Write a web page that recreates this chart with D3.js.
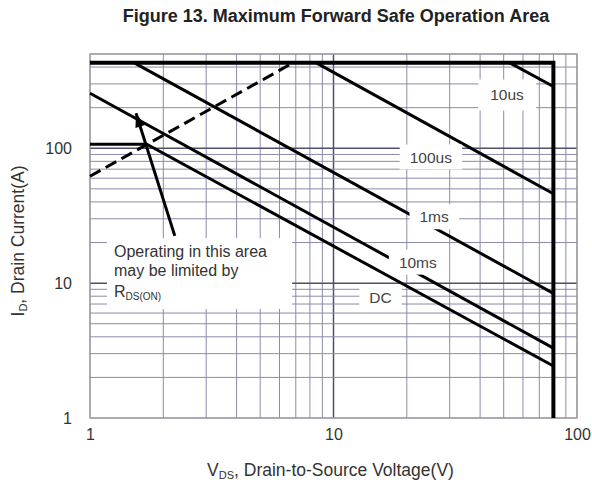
<!DOCTYPE html>
<html>
<head>
<meta charset="utf-8">
<script src="https://cdn.jsdelivr.net/npm/d3@7"></script>
<style>
  body { margin: 0; background: #fff; }
  svg { display: block; font-family: 'Liberation Sans', Arial, sans-serif; }
  .grid line { stroke: #8a8aaa; stroke-width: 1; }
  .grid line.decade { stroke: #50506a; stroke-width: 1.5; }
  .axis text { font-size: 16px; fill: #333; }
  .lbl { font-size: 15.5px; fill: #444; }
</style>
</head>
<body>
<svg id="chart" width="592" height="485"></svg>
<script>
// grid values
const vdsGrid = [1, 2, 3, 4, 5, 6, 7, 8, 9, 10, 20, 30, 40, 50, 60, 70, 80, 90, 100];
const idGrid = [1, 2, 3, 4, 5, 6, 7, 8, 9, 10, 20, 30, 40, 50, 60, 70, 80, 90, 100, 200, 300, 400, 500];
const vdsTicks = [1, 10, 100];
const idTicks = [1, 10, 100];

// outer limits (A, V)
const limitId = 430;
const limitVds = 80;

// SOA curves
const seriesNames = ['10us', '100us', '1ms', '10ms', 'DC'];
const seriesVds = [[53, 80], [8.5, 80], [1.52, 80], [1, 80], [1, 1.71, 80]];
const seriesId = [[430, 287], [430, 46], [430, 8.4], [256, 3.3], [107, 107, 2.43]];
const labelVds = [51.6, 25.1, 25.9, 22.2, 15.6];
const labelId = [248, 86, 31, 14.3, 7.76];

// RDS(on) limit (dashed)
const rdsVds = [1, 6.82];
const rdsId = [62, 430];

// annotation arrow: tail -> tip
const arrowVds = [2.23, 1.545];
const arrowId = [22.4, 182];

const W = 592, H = 485;
const MARGIN = { top: 54, right: 15, bottom: 67, left: 90 };

const svg = d3.select('#chart');
const x = d3.scaleLog().domain([1, 100]).range([MARGIN.left, W - MARGIN.right]);
const y = d3.scaleLog().domain([1, 500]).range([H - MARGIN.bottom, MARGIN.top]);
const isDecade = v => Math.abs(Math.log10(v) - Math.round(Math.log10(v))) < 1e-9;

svg.append('text')
  .attr('x', W / 2 + 40).attr('y', 22)
  .attr('text-anchor', 'middle')
  .style('font-size', '18px').style('font-weight', 'bold').style('fill', '#222')
  .text('Figure 13. Maximum Forward Safe Operation Area');

const grid = svg.append('g').attr('class', 'grid');
grid.selectAll('line.v').data(vdsGrid).join('line')
  .attr('class', d => 'v' + (isDecade(d) && d !== 1 && d !== 100 ? ' decade' : ''))
  .attr('x1', d => x(d)).attr('x2', d => x(d))
  .attr('y1', y(1)).attr('y2', y(500));
grid.selectAll('line.h').data(idGrid).join('line')
  .attr('class', d => 'h' + (isDecade(d) && d !== 1 ? ' decade' : ''))
  .attr('x1', x(1)).attr('x2', x(100))
  .attr('y1', d => y(d)).attr('y2', d => y(d));

svg.append('rect')
  .attr('x', x(1)).attr('y', y(500))
  .attr('width', x(100) - x(1)).attr('height', y(1) - y(500))
  .attr('fill', 'none').attr('stroke', '#999').attr('stroke-width', 1.2);

const line = d3.line().x(d => x(d[0])).y(d => y(d[1]));

// outer limits
svg.append('path')
  .attr('d', line([[1, limitId], [limitVds, limitId], [limitVds, 1]]))
  .attr('fill', 'none').attr('stroke', '#000').attr('stroke-width', 4);

// curves
seriesNames.forEach((name, i) => {
  const pts = seriesVds[i].map((v, j) => [v, seriesId[i][j]]);
  svg.append('path')
    .attr('d', line(pts))
    .attr('fill', 'none').attr('stroke', '#000').attr('stroke-width', 3);
});

// RDS(on) dashed line
svg.append('path')
  .attr('d', line(rdsVds.map((v, j) => [v, rdsId[j]])))
  .attr('fill', 'none').attr('stroke', '#000').attr('stroke-width', 3)
  .attr('stroke-dasharray', '12,6');

// curve labels with white background
seriesNames.forEach((name, i) => {
  const g = svg.append('g');
  const t = g.append('text')
    .attr('class', 'lbl')
    .attr('x', x(labelVds[i])).attr('y', y(labelId[i]))
    .attr('text-anchor', 'middle').attr('dy', '0.35em')
    .text(name);
  const b = t.node().getBBox();
  const px = i === 0 ? 12 : 10, py = i === 0 ? 7 : 4;
  g.insert('rect', 'text')
    .attr('x', b.x - px).attr('y', b.y - py)
    .attr('width', b.width + 2 * px).attr('height', b.height + 2 * py)
    .attr('fill', '#fff');
});

// annotation box
const note = svg.append('g');
const noteText = note.append('text').attr('class', 'lbl').style('font-size', '16px').style('fill', '#333');
noteText.append('tspan').attr('x', 114).attr('y', 257).text('Operating in this area');
noteText.append('tspan').attr('x', 114).attr('y', 276).text('may be limited by');
const r = noteText.append('tspan').attr('x', 114).attr('y', 297);
r.text('R');
noteText.append('tspan').attr('dy', 3).style('font-size', '10px').text('DS(ON)');
const nb = noteText.node().getBBox();
note.insert('rect', 'text')
  .attr('x', nb.x - 7).attr('y', nb.y - 5)
  .attr('width', nb.width + 32).attr('height', nb.height + 12)
  .attr('fill', '#fff');

// arrow
const ax1 = x(arrowVds[0]), ay1 = y(arrowId[0]);
const ax2 = x(arrowVds[1]), ay2 = y(arrowId[1]);
svg.append('line')
  .attr('x1', ax1).attr('y1', ay1).attr('x2', ax2).attr('y2', ay2)
  .attr('stroke', '#000').attr('stroke-width', 3);
const ang = Math.atan2(ay2 - ay1, ax2 - ax1);
const hl = 14, hw = 5;
const bx = ax2 - hl * Math.cos(ang), by = ay2 - hl * Math.sin(ang);
svg.append('path')
  .attr('d', `M${ax2},${ay2}L${bx + hw * Math.sin(ang)},${by - hw * Math.cos(ang)}L${bx - hw * Math.sin(ang)},${by + hw * Math.cos(ang)}Z`)
  .attr('fill', '#000');

// axes
svg.append('g')
  .attr('class', 'axis')
  .attr('transform', `translate(0,${y(1)})`)
  .call(d3.axisBottom(x).tickValues(vdsTicks).tickFormat(d3.format('d')).tickSize(0).tickPadding(11))
  .call(g => g.select('.domain').remove());

svg.append('g')
  .attr('class', 'axis')
  .attr('transform', `translate(${x(1)},0)`)
  .call(d3.axisLeft(y).tickValues(idTicks).tickFormat(d3.format('d')).tickSize(0).tickPadding(18))
  .call(g => g.select('.domain').remove());

// axis titles
const xt = svg.append('text')
  .attr('x', x(10) - 3).attr('y', 476)
  .attr('text-anchor', 'middle')
  .style('font-size', '17.5px').style('fill', '#333');
xt.append('tspan').text('V');
xt.append('tspan').attr('dy', 3).style('font-size', '11px').text('DS');
xt.append('tspan').attr('dy', -3).text(', Drain-to-Source Voltage(V)');

const yt = svg.append('text')
  .attr('transform', `translate(24,${(y(1) + y(500)) / 2 + 5}) rotate(-90)`)
  .attr('text-anchor', 'middle')
  .style('font-size', '17.5px').style('fill', '#333');
yt.append('tspan').text('I');
yt.append('tspan').attr('dy', 3).style('font-size', '11px').text('D');
yt.append('tspan').attr('dy', -3).text(', Drain Current(A)');
</script>
</body>
</html>
